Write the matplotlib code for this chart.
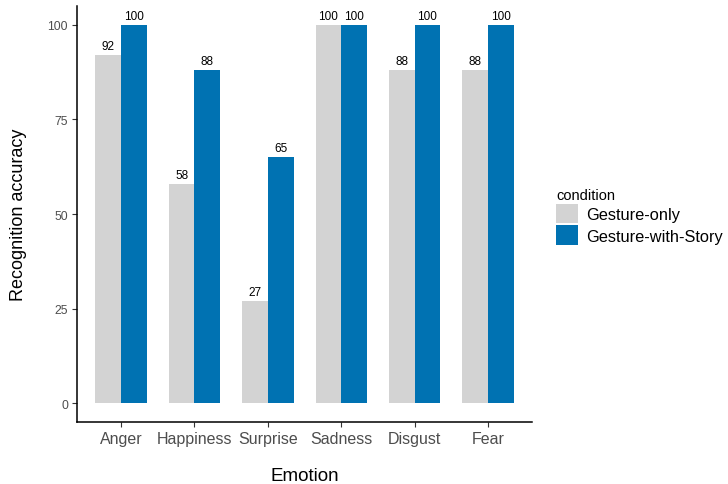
import matplotlib
matplotlib.use("Agg")
import matplotlib.pyplot as plt
import numpy as np
from matplotlib.patches import Patch

plt.rcParams['font.family'] = ['Liberation Sans', 'DejaVu Sans']

emotions = ["Anger", "Happiness", "Surprise", "Sadness", "Disgust", "Fear"]
gesture_only = [92, 58, 27, 100, 88, 88]
gesture_story = [100, 88, 65, 100, 100, 100]
conditions = ["Gesture-only", "Gesture-with-Story"]
colors = ["#D3D3D3", "#0072B2"]
yticks = [0, 25, 50, 75, 100]

fig = plt.figure(figsize=(7.28, 4.85), dpi=100)
ax = fig.add_axes([0.1058, 0.1278, 0.625, 0.8577])

x = np.arange(1, len(emotions) + 1)
w = 0.35
for offset, vals, col in [(-w / 2, gesture_only, colors[0]), (w / 2, gesture_story, colors[1])]:
    bars = ax.bar(x + offset, vals, width=w, color=col, linewidth=0)
    for b, v in zip(bars, vals):
        ax.text(b.get_x() + b.get_width() / 2, v + 0.8, f"{v}", ha="center", va="bottom",
                fontsize=8.5, color="black")

ax.set_xlim(0.4, 6.6)
ax.set_ylim(-5, 105)
ax.set_xticks(x)
ax.set_xticklabels(emotions, fontsize=11.5, color="#4D4D4D")
ax.set_yticks(yticks)
ax.set_yticklabels([str(t) for t in yticks], fontsize=8.8, color="#4D4D4D")
ax.tick_params(axis="both", length=3.5, width=0.8, color="#333333", pad=3)
for s in ["top", "right"]:
    ax.spines[s].set_visible(False)
for s in ["left", "bottom"]:
    ax.spines[s].set_linewidth(1.1)
    ax.spines[s].set_color("black")

ax.set_xlabel("Emotion", fontsize=13.5, labelpad=15)
ax.set_ylabel("Recognition accuracy", fontsize=13, labelpad=15)

handles = [Patch(facecolor=c, edgecolor="none") for c in colors]
leg = fig.legend(handles, conditions, title="condition", loc="upper left",
                 bbox_to_anchor=(0.744, 0.641), frameon=False, fontsize=11.8,
                 title_fontsize=10.5, handlelength=1.3, handleheight=1.5,
                 handletextpad=0.5, labelspacing=0.1, alignment="left")

fig.savefig("out.png", dpi=100)
